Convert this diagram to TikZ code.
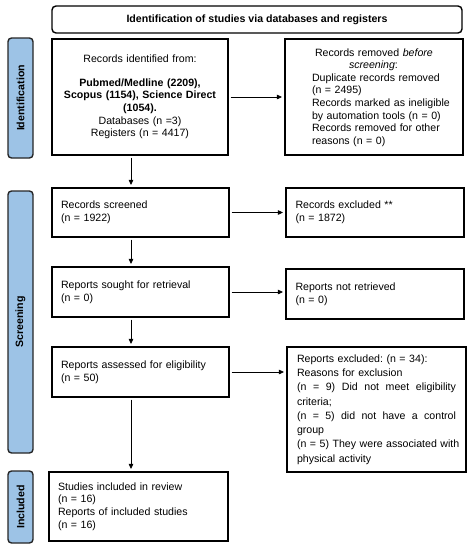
\documentclass[tikz,border=0pt]{standalone}
\usepackage{fontspec}
\setmainfont{Liberation Sans}
\usetikzlibrary{arrows.meta,calc}
\definecolor{barblue}{HTML}{9DC3E6}
\frenchspacing
\begin{document}
\begin{tikzpicture}[x=1pt,y=-1pt,
  every node/.style={font=\fontsize{10.6}{12.6}\selectfont},
  box/.style={draw=black,line width=1.1pt,rectangle,inner sep=0pt},
  bar/.style={draw=black!85,line width=1.4pt,fill=barblue,rounded corners=3.5pt,
     rotate=90,inner sep=0pt,minimum height=25pt,font=\fontsize{10.6}{12}\selectfont\bfseries},
  arr/.style={draw=black,line width=0.8pt,-{Triangle[length=5pt,width=4.5pt]},
     shorten <=2pt,shorten >=2.5pt}]
\useasboundingbox (0,0) rectangle (471,550);
\coordinate (spine) at (131,0);

\node[draw=black,line width=1.4pt,rounded corners=4pt,minimum width=410pt,minimum height=27pt,
  inner sep=0pt,font=\fontsize{10.6}{12.6}\selectfont\bfseries] (head) at (257,19.5)
  {Identification of studies via databases and registers};

\node[bar,minimum width=120pt] (bid) at (20.5,98) {Identification};
\node[bar,minimum width=262pt] (bsc) at (20.5,322) {Screening};
\node[bar,minimum width=72pt] (bin) at (20.5,507) {Included};

\node[box,minimum width=176pt,minimum height=116pt,text width=170pt,align=center] (b1) at (140,97)
  {Records identified from:\\[11pt]
   \textbf{Pubmed/Medline (2209),}\\
   \textbf{Scopus (1154), Science Direct}\\
   \textbf{(1054).}\\
   Databases (n =3)\\
   Registers (n = 4417)};

\node[box,minimum width=178pt,minimum height=116pt] (b2) at (374,97) {};
\node[inner sep=0pt,text width=142pt,align=left] (b2text) at (383,97.5)
  {\hspace*{3pt}Records removed \textit{before}\\
   \hspace*{37pt}\textit{screening}:\\
   Duplicate records removed\\
   (n = 2495)\\
   Records marked as ineligible\\
   by automation tools (n = 0)\\
   Records removed for other\\
   reasons (n = 0)};

\node[box,minimum width=177pt,minimum height=49pt,text width=159pt,align=left,
  font=\fontsize{10.6}{13.3}\selectfont] (b3) at (140.5,212.5)
  {Records screened\\(n = 1922)};
\node[box,minimum width=178pt,minimum height=49pt,text width=159pt,align=left,
  font=\fontsize{10.6}{13.3}\selectfont] (b4) at (375,212.5)
  {Records excluded **\\(n = 1872)};

\node[box,minimum width=177pt,minimum height=50pt,text width=159pt,align=left,
  font=\fontsize{10.6}{13.3}\selectfont] (b5) at (140.5,292)
  {Reports sought for retrieval\\(n = 0)};
\node[box,minimum width=178pt,minimum height=50pt,text width=159pt,align=left,
  font=\fontsize{10.6}{13.3}\selectfont] (b6) at (375,294)
  {Reports not retrieved\\(n = 0)};

\node[box,minimum width=177pt,minimum height=50pt,text width=159pt,align=left,
  font=\fontsize{10.6}{13.3}\selectfont] (b7) at (140.5,372)
  {Reports assessed for eligibility\\(n = 50)};
\node[box,minimum width=179pt,minimum height=125pt,text width=159pt,align=left,
  font=\fontsize{10.6}{14.3}\selectfont] (b8) at (376.5,409.5)
  {Reports excluded: (n = 34):\\
   Reasons for exclusion\\
   (n\hfill =\hfill 9)\hfill Did\hfill not\hfill meet\hfill eligibility\\
   criteria;\\
   (n\hfill =\hfill 5)\hfill did\hfill not\hfill have\hfill a\hfill control\\
   group\\
   \mbox{(n = 5) They were associated with}\\
   physical activity};

\node[box,minimum width=179pt,minimum height=69pt,text width=161pt,align=left] (b9) at (138.5,506.5)
  {Studies included in review\\(n = 16)\\Reports of included studies\\(n = 16)};

\draw[arr] (b1.east) -- (b1.east -| b2.west);
\draw[arr] (b3.east) -- (b3.east -| b4.west);
\draw[arr] (b5.east) -- (b5.east -| b6.west);
\draw[arr] (b7.east) -- (b7.east -| b8.west);
\draw[arr] (b1.south -| spine) -- (b3.north -| spine);
\draw[arr] (b3.south -| spine) -- (b5.north -| spine);
\draw[arr] (b5.south -| spine) -- (b7.north -| spine);
\draw[arr] (b7.south -| spine) -- (b9.north -| spine);
\end{tikzpicture}
\end{document}
